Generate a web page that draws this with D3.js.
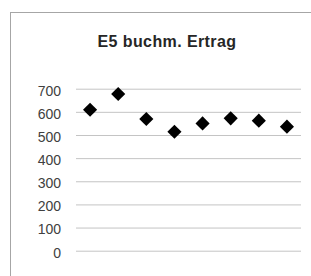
<!DOCTYPE html>
<html>
<head>
<meta charset="utf-8">
<script src="https://cdn.jsdelivr.net/npm/d3@7"></script>
<style>
  body { margin: 0; background: #fff; }
  svg { display: block; font-family: "Liberation Sans", Arial, sans-serif; }
</style>
</head>
<body>
<svg width="311" height="276"></svg>
<script>
const categories = ['1', '2', '3', '4', '5', '6', '7', '8'];
const values = [609, 677, 569, 514, 550, 572, 562, 536];
const yTicks = [0, 100, 200, 300, 400, 500, 600, 700];

const svg = d3.select('svg');
const width = +svg.attr('width');
const height = +svg.attr('height');

// chart frame (cut off at right and bottom edge)
svg.append('rect')
    .attr('x', 10.5).attr('y', 12.5)
    .attr('width', 320).attr('height', 300)
    .attr('fill', '#fff')
    .attr('stroke', '#a6a6a6');

svg.append('text')
    .attr('x', 167).attr('y', 47)
    .attr('text-anchor', 'middle')
    .attr('font-weight', 'bold')
    .attr('font-size', 16)
    .attr('letter-spacing', 0.4)
    .attr('fill', '#262626')
    .text('E5 buchm. Ertrag');

const margin = { left: 76, right: 10, top: 88.7, bottom: 25.3 };

const xScale = d3.scaleBand()
    .domain(categories)
    .range([margin.left, width - margin.right]);

const yScale = d3.scaleLinear()
    .domain([0, 700])
    .range([height - margin.bottom, margin.top]);

const yAxis = d3.axisLeft(yScale)
    .tickValues(yTicks)
    .tickSize(-(width - margin.right - margin.left))
    .tickPadding(15);

const yAxisG = svg.append('g')
    .attr('transform', `translate(${margin.left}, 0)`)
    .call(yAxis);
yAxisG.select('.domain').remove();
yAxisG.selectAll('.tick line').attr('stroke', '#c4c4c4');
yAxisG.selectAll('.tick text')
    .attr('font-size', 14)
    .attr('dy', '0.45em')
    .attr('fill', '#404040');

svg.append('g').selectAll('path')
    .data(values)
    .enter()
        .append('path')
        .attr('d', d3.symbol(d3.symbolSquare, 100)())
        .attr('transform', (d, i) =>
            `translate(${xScale(categories[i]) + xScale.bandwidth() / 2}, ${yScale(d)}) rotate(45)`)
        .attr('fill', '#000');
</script>
</body>
</html>
